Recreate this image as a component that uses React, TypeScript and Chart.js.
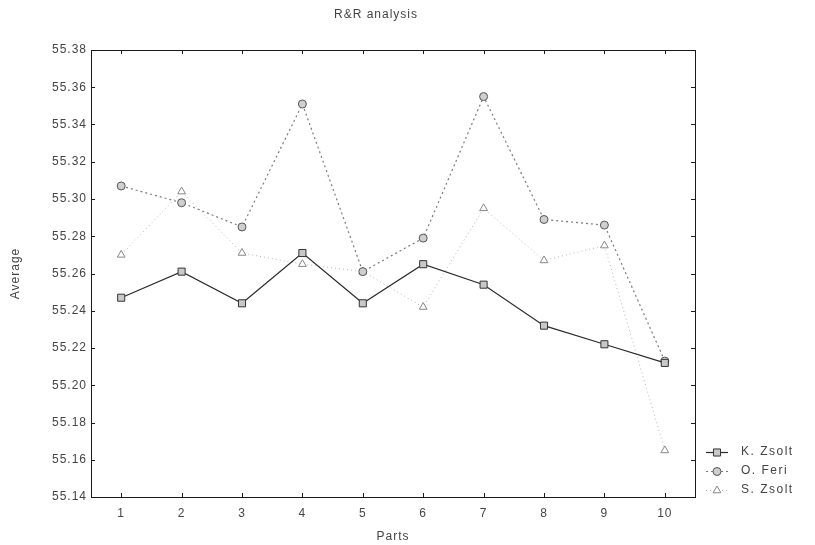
import React, { useEffect, useRef } from "react";
import { Chart, registerables } from "chart.js";

Chart.register(...registerables);

const parts = ["1", "2", "3", "4", "5", "6", "7", "8", "9", "10"];
const kZsolt = [55.247, 55.261, 55.244, 55.271, 55.244, 55.265, 55.254, 55.232, 55.222, 55.212];
const oFeri = [55.307, 55.298, 55.285, 55.351, 55.261, 55.279, 55.355, 55.289, 55.286, 55.213];
const sZsolt = [55.27, 55.304, 55.271, 55.265, 55.261, 55.242, 55.295, 55.267, 55.275, 55.165];
const yTicks = [55.14, 55.16, 55.18, 55.2, 55.22, 55.24, 55.26, 55.28, 55.3, 55.32, 55.34, 55.36, 55.38];
const seriesNames = ["K. Zsolt", "O. Feri", "S. Zsolt"];
const chartTitle = "R&R analysis";

const FONT = "'Liberation Sans', Arial, sans-serif";
const TEXT = "#444";

const styles = [
  { line: "#2a2a2a", dash: [] as number[], point: "rect", radius: 5, fill: "#c8c8c8", edge: "#333", width: 1.2 },
  { line: "#7a7a7a", dash: [2, 3], point: "circle", radius: 4, fill: "#cfcfcf", edge: "#555", width: 1.2 },
  { line: "#b5b5b5", dash: [1, 3], point: "triangle", radius: 4.5, fill: "#ffffff", edge: "#888", width: 1 },
];

function drawMarker(ctx: CanvasRenderingContext2D, kind: string, x: number, y: number, r: number) {
  ctx.beginPath();
  if (kind === "rect") {
    const s = r * Math.SQRT1_2;
    ctx.rect(x - s, y - s, 2 * s, 2 * s);
  } else if (kind === "circle") {
    ctx.arc(x, y, r, 0, Math.PI * 2);
  } else {
    ctx.moveTo(x, y - r);
    ctx.lineTo(x + r * 0.866, y + r * 0.5);
    ctx.lineTo(x - r * 0.866, y + r * 0.5);
    ctx.closePath();
  }
  ctx.fill();
  ctx.stroke();
}

const framePlugin = {
  id: "frame",
  beforeDraw(chart: any) {
    (chart.ctx as any).letterSpacing = "1px";
  },
  beforeDatasetsDraw(chart: any) {
    const { ctx, chartArea } = chart;
    const { left, right, top, bottom } = chartArea;
    ctx.save();
    ctx.strokeStyle = "#1a1a1a";
    ctx.lineWidth = 1;
    ctx.strokeRect(Math.round(left) + 0.5, Math.round(top) + 0.5, Math.round(right - left), Math.round(bottom - top));
    const ys = chart.scales.y;
    const xs = chart.scales.x;
    ctx.beginPath();
    yTicks.forEach((v) => {
      const py = Math.round(ys.getPixelForValue(v)) + 0.5;
      ctx.moveTo(left, py);
      ctx.lineTo(left + 4, py);
      ctx.moveTo(right, py);
      ctx.lineTo(right - 4, py);
    });
    parts.forEach((_, i) => {
      const px = Math.round(xs.getPixelForValue(i)) + 0.5;
      ctx.moveTo(px, bottom);
      ctx.lineTo(px, bottom - 4);
      ctx.moveTo(px, top);
      ctx.lineTo(px, top + 4);
    });
    ctx.stroke();
    ctx.restore();
  },
  afterDraw(chart: any) {
    const { ctx, chartArea } = chart;
    ctx.save();
    (ctx as any).letterSpacing = "1px";
    ctx.fillStyle = TEXT;
    ctx.font = `12px ${FONT}`;
    ctx.textBaseline = "middle";
    ctx.textAlign = "center";
    ctx.fillText(chartTitle, 376, 15);
    const x0 = chartArea.right + 11;
    const ys = [452, 471, 490];
    seriesNames.forEach((name, i) => {
      const st = styles[i];
      const y = ys[i];
      ctx.strokeStyle = st.line;
      ctx.lineWidth = st.width;
      ctx.setLineDash(st.dash);
      ctx.beginPath();
      ctx.moveTo(x0, y + 0.5);
      ctx.lineTo(x0 + 22, y + 0.5);
      ctx.stroke();
      ctx.setLineDash([]);
      ctx.fillStyle = st.fill;
      ctx.strokeStyle = st.edge;
      ctx.lineWidth = 1;
      drawMarker(ctx, st.point, x0 + 11, y + 0.5, st.radius);
      ctx.fillStyle = TEXT;
      (ctx as any).letterSpacing = "1.5px";
      ctx.font = `12px ${FONT}`;
      ctx.textBaseline = "middle";
      ctx.textAlign = "left";
      ctx.fillText(name, x0 + 35, y);
    });
    ctx.restore();
  },
};

export default function App() {
  const ref = useRef<HTMLCanvasElement | null>(null);

  useEffect(() => {
    if (!ref.current) return;
    const data = [kZsolt, oFeri, sZsolt];
    const chart = new Chart(ref.current, {
      type: "line",
      data: {
        labels: parts,
        datasets: seriesNames.map((name, i) => ({
          label: name,
          data: data[i],
          borderColor: styles[i].line,
          borderWidth: styles[i].width,
          borderDash: styles[i].dash,
          pointStyle: styles[i].point as any,
          pointRadius: styles[i].radius,
          pointBackgroundColor: styles[i].fill,
          pointBorderColor: styles[i].edge,
          pointBorderWidth: 1,
          tension: 0,
          fill: false,
        })),
      },
      options: {
        animation: false,
        responsive: false,
        maintainAspectRatio: false,
        layout: { padding: { top: 50, right: 120, bottom: 0, left: 0 } },
        plugins: {
          legend: { display: false },
          tooltip: { enabled: false },
          title: { display: false },
        },
        scales: {
          x: {
            type: "category",
            offset: true,
            grid: { display: false, drawTicks: false },
            border: { display: false },
            ticks: { color: TEXT, font: { family: FONT, size: 12 }, padding: 9, maxRotation: 0 },
            title: { display: true, text: "Parts", color: TEXT, font: { family: FONT, size: 12 }, padding: { top: 0, bottom: 1 } },
            afterFit: (s: any) => {
              s.height = 48;
            },
          },
          y: {
            type: "linear",
            min: 55.14,
            max: 55.38,
            grid: { display: false, drawTicks: false },
            border: { display: false },
            afterBuildTicks: (s: any) => {
              s.ticks = yTicks.map((v) => ({ value: v }));
            },
            ticks: {
              color: TEXT,
              font: { family: FONT, size: 12 },
              padding: 4,
              callback: (v: any) => Number(v).toFixed(2),
            },
            title: { display: true, text: "Average", color: TEXT, font: { family: FONT, size: 12 }, padding: { top: 8, bottom: 0 } },
            afterFit: (s: any) => {
              s.width = 91;
            },
          },
        },
      },
      plugins: [framePlugin],
    });
    return () => chart.destroy();
  }, []);

  return (
    <div style={{ position: "fixed", left: 0, top: 0, width: 815, height: 545, background: "#fff" }}>
      <canvas ref={ref} width={815} height={545} style={{ width: 815, height: 545, display: "block" }} />
    </div>
  );
}
